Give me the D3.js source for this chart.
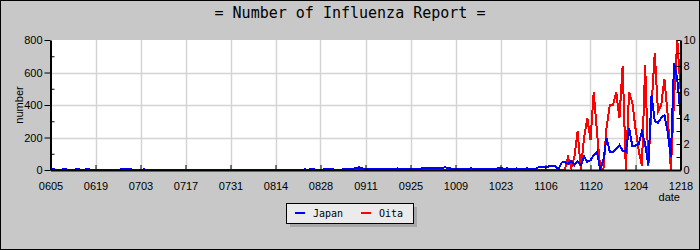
<!DOCTYPE html>
<html><head><meta charset="utf-8">
<script src="https://cdn.jsdelivr.net/npm/d3@7"></script>
<style>
html,body{margin:0;padding:0;background:#c8c8c8;}
svg{display:block;}
</style></head>
<body>
<script>
// ---- data ----
const title = "= Number of Influenza Report =";
const tickLabels = ["0605","0619","0703","0717","0731","0814","0828","0911","0925","1009","1023","1106","1120","1204","1218"];
const seriesNames = ["Japan","Oita"];
// Japan (left axis, daily counts)
const japan = [
 4,4,0,0,4,4,0,0,4,4,0,4,4,0,0,0,0,0,0,0,
 0,0,4,5,5,4,0,0,0,4,0,0,0,0,0,0,0,0,0,0,
 0,0,0,0,0,0,0,0,0,0,0,0,0,0,0,0,0,0,0,0,
 0,0,0,0,0,0,0,0,0,0,0,0,0,0,0,0,0,0,0,4,
 2,4,4,0,0,4,5,5,4,0,0,5,6,6,8,12,16,10,5,5,
 5,6,5,5,8,5,5,6,10,5,6,5,8,5,5,8,14,15,15,15,
 15,15,15,16,12,5,5,5,5,5,8,10,6,5,5,5,8,5,5,10,
 12,8,10,5,5,10,6,5,10,8,5,6,20,18,15,22,25,24,2,45,
 50,35,55,30,55,30,82,50,60,90,113,5,60,197,113,110,130,154,120,113,
 258,150,150,160,236,160,30,461,300,290,320,338,236,80,660,560,340
];
// Oita (right axis)
const oita = [
 0,0,0,0,0,0,0,0,0,0,0,0,0,0,0,0,0,0,0,0,
 0,0,0,0,0,0,0,0,0,0,0,0,0,0,0,0,0,0,0,0,
 0,0,0,0,0,0,0,0,0,0,0,0,0,0,0,0,0,0,0,0,
 0,0,0,0,0,0,0,0,0,0,0,0,0,0,0,0,0,0,0,0,
 0,0,0,0,0,0,0,0,0,0,0,0,0,0,0,0,0,0,0,0,
 0,0,0,0,0,0,0,0,0,0,0,0,0,0,0,0,0,0,0,0,
 0,0,0,0,0,0,0,0,0,0,0,0,0,0,0,0,0,0,0,0,
 0,0,0,0,0,0,0,0,0,0,0,0,0,0,0,0,0,0,0,0,
 0,1.0,0.2,1.0,3.0,0,2.5,4.0,2.3,6.0,3.0,0.2,0,3.3,5.0,5.0,6.0,4.0,8.0,0,
 6.0,5.2,3.2,1.5,0.3,8.1,0.3,5.0,9.0,4.5,5.0,7.0,4.3,0,5.5,10.0,6.2
];
const leftTicks = [0,200,400,600,800];
const leftMinor = [100,300,500,700];
const rightLabels = [0,2,4,6,8,10];
const rightTicks = [0,1,2,3,4,5,6,7,8,9,10];
const colors = ["#0000ff","#ff0000"];

// ---- layout ----
const W = 700, H = 250;
const L = 50.5, R = 680.5, T = 40, B = 170;

const svg = d3.select("body").append("svg").attr("width", W).attr("height", H);
svg.append("rect").attr("x",0.5).attr("y",0.5).attr("width",W-1).attr("height",H-1)
  .attr("fill","#c8c8c8").attr("stroke","#000");

const nDays = japan.length - 1;
const x = d3.scaleLinear().domain([0, nDays]).range([L, R]);
const yL = d3.scaleLinear().domain([0, 800]).range([B, T]);
const yR = d3.scaleLinear().domain([0, 10]).range([B, T]);
const tickDays = tickLabels.map((d,i) => i*14);

// plot bg
svg.append("rect").attr("x",L).attr("y",T).attr("width",R-L).attr("height",B-T).attr("fill","#fff");

// grid
const g = svg.append("g");
g.selectAll("line.vg").data(tickDays.slice(1,-1)).enter().append("line")
  .attr("x1",d=>Math.round(x(d))+0.5).attr("x2",d=>Math.round(x(d))+0.5)
  .attr("y1",T).attr("y2",B).attr("stroke","#d4d4d4").attr("stroke-width",1.5);
g.selectAll("line.hg").data([200,400,600]).enter().append("line")
  .attr("x1",L).attr("x2",R).attr("y1",d=>Math.round(yL(d))+0.5).attr("y2",d=>Math.round(yL(d))+0.5)
  .attr("stroke","#d4d4d4").attr("stroke-width",1.5);

// lines
const lineJ = d3.line().x((d,i)=>x(i)).y(d=>yL(d));
const lineO = d3.line().x((d,i)=>x(i)).y(d=>yR(d));
svg.append("path").datum(oita).attr("d",lineO).attr("fill","none")
  .attr("stroke",colors[1]).attr("stroke-width",2).attr("shape-rendering","crispEdges");
svg.append("path").datum(japan).attr("d",lineJ).attr("fill","none")
  .attr("stroke",colors[0]).attr("stroke-width",2).attr("shape-rendering","crispEdges");

const fontAxis = "'Liberation Sans', Arial, sans-serif";

// bottom axis
svg.append("g").attr("transform",`translate(0,${B})`)
  .call(d3.axisBottom(x).tickValues(tickDays).tickFormat((d,i)=>tickLabels[i])
    .tickSizeInner(-5).tickSizeOuter(0).tickPadding(12));
// left axis
svg.append("g").attr("transform",`translate(${L},0)`)
  .call(d3.axisLeft(yL).tickValues(leftTicks).tickSizeInner(6).tickSizeOuter(0).tickPadding(2));
svg.append("g").attr("transform",`translate(${L},0)`)
  .call(d3.axisLeft(yL).tickValues(leftMinor).tickSizeInner(-4).tickSizeOuter(0).tickFormat(""))
  .select(".domain").remove();
// right axis
svg.append("g").attr("transform",`translate(${R},0)`)
  .call(d3.axisRight(yR).tickValues(rightLabels).tickSizeInner(0).tickSizeOuter(0).tickPadding(3));
svg.append("g").attr("transform",`translate(${R},0)`)
  .call(d3.axisLeft(yR).tickValues(rightTicks).tickSizeInner(4).tickSizeOuter(0).tickFormat(""))
  .select(".domain").remove();

svg.selectAll(".domain").attr("stroke","#000").attr("stroke-width",2);
svg.selectAll(".tick line").attr("stroke","#000").attr("stroke-width",1);
svg.selectAll(".tick text").attr("font-family",fontAxis).attr("font-size",11).attr("fill","#000");

// axis titles
svg.append("text").attr("transform","translate(23,105) rotate(-90)").attr("text-anchor","middle")
  .attr("font-family",fontAxis).attr("font-size",11).text("number");
svg.append("text").attr("x",680).attr("y",201).attr("text-anchor","end")
  .attr("font-family",fontAxis).attr("font-size",11).text("date");

// title
svg.append("text").attr("x",350).attr("y",18).attr("text-anchor","middle")
  .attr("font-family","'DejaVu Sans Mono', monospace").attr("font-size",15).text(title);

// legend
const lg = svg.append("g");
lg.append("rect").attr("x",290).attr("y",207).attr("width",127).attr("height",20).attr("fill","#a8a8a8");
lg.append("rect").attr("x",286.5).attr("y",203.5).attr("width",127).attr("height",20)
  .attr("fill","#ebebeb").attr("stroke","#000");
const legX = [295, 361];
seriesNames.forEach((n,i)=>{
  lg.append("line").attr("x1",legX[i]).attr("x2",legX[i]+10).attr("y1",213).attr("y2",213)
    .attr("stroke",colors[i]).attr("stroke-width",2);
  lg.append("text").attr("x",legX[i]+18).attr("y",217).attr("font-family","'DejaVu Sans Mono', monospace")
    .attr("font-size",10).text(n);
});
</script>
</body></html>
